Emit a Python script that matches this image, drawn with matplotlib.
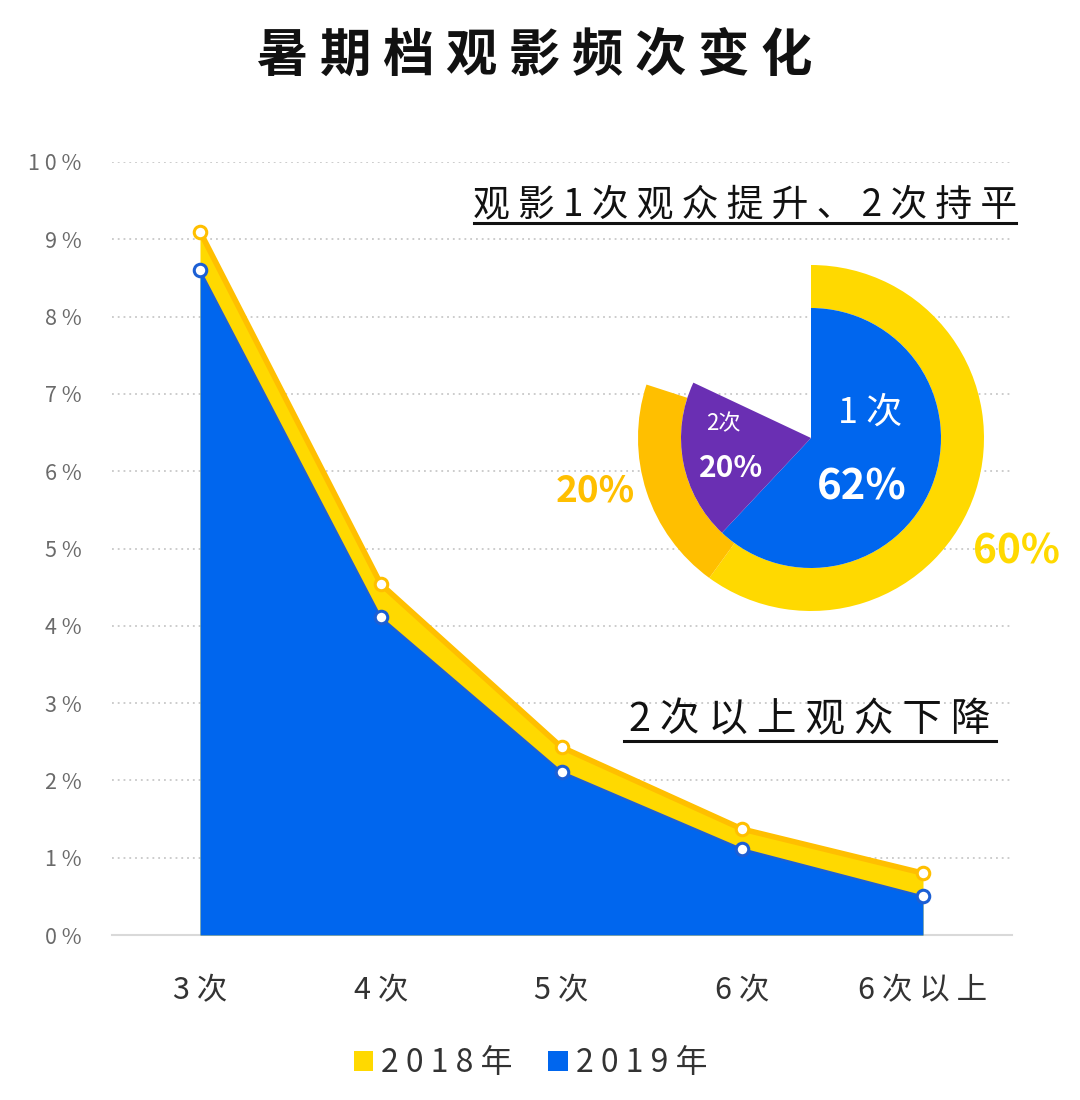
import matplotlib
matplotlib.use("Agg")
import matplotlib.pyplot as plt
from matplotlib import font_manager
from matplotlib.lines import Line2D

# ---------------- data ----------------
title = "暑期档观影频次变化"
categories = ["3次", "4次", "5次", "6次", "6次以上"]
series_names = ["2018年", "2019年"]
values_2018 = [9.1, 4.54, 2.43, 1.37, 0.80]
values_2019 = [8.6, 4.11, 2.11, 1.11, 0.50]
y_ticks = [0, 1, 2, 3, 4, 5, 6, 7, 8, 9, 10]

pie_labels = ["1次", "2次", "其他"]
pie_2018 = [60, 20, 20]
pie_2019 = [62, 20, 18]

note_top = "观影1次观众提升、2次持平"
note_mid = "2次以上观众下降"

# ---------------- style ----------------
CJK = ["Noto Sans CJK SC", "DejaVu Sans"]
plt.rcParams["font.family"] = CJK
available = {f.name for f in font_manager.fontManager.ttflist}
if "Liberation Sans Narrow" in available:
    NUM = dict(family=["Liberation Sans Narrow", "DejaVu Sans"], fontweight="bold")
    NUM_SCALE = 1.0
else:
    NUM = dict(family=["Noto Sans CJK SC", "DejaVu Sans"], fontweight="bold")
    NUM_SCALE = 0.86

YELLOW = "#FFD900"
ORANGE = "#FFBF00"
BLUE = "#0066EE"
BLUE_EDGE = "#1C5FD4"
PURPLE = "#6A2FB3"

W, H = 1080, 1100
fig = plt.figure(figsize=(W / 100, H / 100), dpi=100)
fig.patch.set_facecolor("white")


def fx(px):
    return px / W


def fy(py):
    return 1 - py / H


def spaced(s):
    return " ".join(list(s))


# ---------------- main area chart ----------------
left, right, top, bottom = 112, 1012, 162, 935
ax = fig.add_axes([fx(left), fy(bottom), fx(right - left), (bottom - top) / H])
x = list(range(len(categories)))
step = (923 - 200) / 4
ax.set_xlim(-(200 - left) / step, 4 + (right - 923) / step)
ax.set_ylim(0, 10)

ax.fill_between(x, values_2018, 0, color=YELLOW, lw=0, zorder=2, label=spaced(series_names[0]))
ax.plot(x, values_2018, color=ORANGE, lw=4, zorder=3, solid_joinstyle="round")
ax.fill_between(x, values_2019, 0, color=BLUE, lw=0, zorder=4, label=spaced(series_names[1]))
ax.plot(x, values_2019, color=BLUE_EDGE, lw=1.5, zorder=5)
ax.plot(x, values_2018, ls="none", marker="o", ms=9, mfc="white", mec=ORANGE, mew=2.2,
        zorder=6, clip_on=False)
ax.plot(x, values_2019, ls="none", marker="o", ms=9, mfc="white", mec=BLUE_EDGE, mew=2.2,
        zorder=7, clip_on=False)

for s in ["top", "right", "left"]:
    ax.spines[s].set_visible(False)
ax.spines["bottom"].set_color("#d9d9d9")
ax.spines["bottom"].set_linewidth(1.5)
ax.spines["bottom"].set_zorder(1)

ax.set_yticks(y_ticks)
ax.set_yticklabels([spaced(f"{v}") + " %" for v in y_ticks])
ax.yaxis.grid(True, color="#c8c8c8", ls=(0, (1, 2.2)), lw=1.3, zorder=0)
ax.set_axisbelow(True)
ax.tick_params(axis="y", length=0, pad=22, labelsize=15.5, labelcolor="#6a6a6a")

ax.set_xticks(x)
ax.set_xticklabels([spaced(c) for c in categories])
ax.tick_params(axis="x", length=0, pad=29, labelsize=22, labelcolor="#333333")

leg = ax.legend(loc="upper center", bbox_to_anchor=(0.465, -0.108), ncol=2, frameon=False,
                handlelength=0.62, handleheight=0.62, handletextpad=0.25,
                columnspacing=1.1, fontsize=23)
for t in leg.get_texts():
    t.set_color("#333333")

# ---------------- title & notes ----------------
fig.text(fx(535), fy(55), spaced(title), ha="center", va="center", fontsize=37,
         fontweight="heavy", color="#111111")

fig.text(fx(745), fy(205), spaced(note_top), ha="center", va="center", fontsize=26.5,
         color="#111111")
fig.add_artist(Line2D([fx(474), fx(1016)], [fy(223), fy(223)], color="#111111", lw=2.2))

fig.text(fx(810), fy(720), spaced(note_mid), ha="center", va="center", fontsize=28.5,
         color="#111111")
fig.add_artist(Line2D([fx(624), fx(996)], [fy(741), fy(741)], color="#111111", lw=2.2))

# ---------------- inset donut ----------------
cx, cy, R = 811, 438, 173
r_in = 130
box = 200
pax = fig.add_axes([fx(cx - box), fy(cy + box), 2 * box / W, 2 * box / H])
pax.pie(pie_2018, radius=R, startangle=90, counterclock=False,
        colors=[YELLOW, ORANGE, "none"],
        wedgeprops=dict(width=R - r_in, linewidth=0))
pax.pie(pie_2019, radius=r_in, startangle=90, counterclock=False,
        colors=[BLUE, PURPLE, "none"],
        wedgeprops=dict(linewidth=0))
pax.set_xlim(-box, box)
pax.set_ylim(-box, box)
pax.set_aspect("equal")
pax.axis("off")

pax.text(59, 25, spaced(pie_labels[0]), ha="center", va="center", fontsize=26,
         color="white")
pax.text(51, -50, f"{pie_2019[0]}%", ha="center", va="center", fontsize=35 * NUM_SCALE,
         color="white", **NUM)
pax.text(-88, 14, pie_labels[1], ha="center", va="center", fontsize=16, color="white")
pax.text(-80, -30, f"{pie_2019[1]}%", ha="center", va="center", fontsize=25 * NUM_SCALE,
         color="white", **NUM)
pax.text(-216, -53, f"{pie_2018[1]}%", ha="center", va="center", fontsize=31 * NUM_SCALE,
         color=ORANGE, **NUM)
pax.text(205, -114, f"{pie_2018[0]}%", ha="center", va="center", fontsize=34 * NUM_SCALE,
         color=YELLOW, **NUM)

fig.savefig("out.png", dpi=100, facecolor="white")
